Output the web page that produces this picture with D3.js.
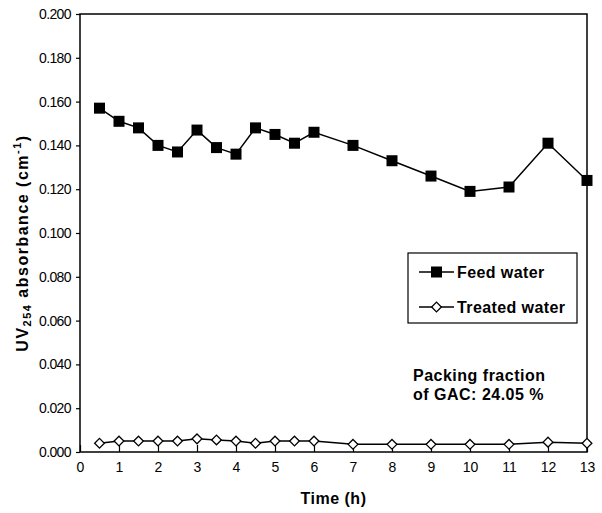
<!DOCTYPE html>
<html>
<head>
<meta charset="utf-8">
<script src="https://cdn.jsdelivr.net/npm/d3@7"></script>
<style>
  body { margin: 0; background: #fff; }
  text { font-family: "Liberation Sans", Arial, sans-serif; fill: #000; }
</style>
</head>
<body>
<div id="chart"></div>
<script>
// time (h)
const hours = [0.5, 1, 1.5, 2, 2.5, 3, 3.5, 4, 4.5, 5, 5.5, 6, 7, 8, 9, 10, 11, 12, 13];
// UV254 absorbance (cm-1)
const feedWater = [0.157, 0.151, 0.148, 0.140, 0.137, 0.147, 0.139, 0.136, 0.148, 0.145,
                   0.141, 0.146, 0.140, 0.133, 0.126, 0.119, 0.121, 0.141, 0.124];
const treatedWater = [0.004, 0.005, 0.005, 0.005, 0.005, 0.006, 0.0055, 0.005, 0.004, 0.005,
                      0.005, 0.005, 0.0035, 0.0035, 0.0035, 0.0035, 0.0035, 0.0045, 0.004];
const xTicks = d3.range(0, 14);
const yTicks = [0, 0.02, 0.04, 0.06, 0.08, 0.1, 0.12, 0.14, 0.16, 0.18, 0.2];

const width = 602, height = 513;
const margin = { top: 14, right: 15, bottom: 61, left: 80 };

const svg = d3.select("#chart")
    .append("svg")
    .attr("width", width)
    .attr("height", height);

const x = d3.scaleLinear().domain([0, 13]).range([margin.left, width - margin.right]);
const y = d3.scaleLinear().domain([0, 0.2]).range([height - margin.bottom, margin.top]);

// plot frame
svg.append("rect")
    .attr("x", x(0)).attr("y", y(0.2))
    .attr("width", x(13) - x(0)).attr("height", y(0) - y(0.2))
    .attr("fill", "none").attr("stroke", "#000").attr("stroke-width", 1.5);

// y axis (outside ticks)
const yAxis = svg.append("g")
    .attr("transform", `translate(${x(0)},0)`)
    .call(d3.axisLeft(y).tickValues(yTicks).tickSize(4).tickPadding(5).tickFormat(d3.format(".3f")));
yAxis.select(".domain").remove();
yAxis.selectAll("text").attr("font-size", 14).style("letter-spacing", "-0.6px");
yAxis.selectAll("line").attr("stroke-width", 1.2);

// x axis (inside ticks)
const xAxis = svg.append("g")
    .attr("transform", `translate(0,${y(0)})`)
    .call(d3.axisBottom(x).tickValues(xTicks).tickSize(-7).tickPadding(10));
xAxis.select(".domain").remove();
xAxis.selectAll("text").attr("font-size", 14);
xAxis.selectAll("line").attr("stroke-width", 1.2);

const line = d3.line().x((d, i) => x(hours[i])).y(d => y(d));

// feed water
svg.append("path")
    .datum(feedWater)
    .attr("d", line)
    .attr("fill", "none").attr("stroke", "#000").attr("stroke-width", 1.5);
svg.selectAll("rect.feed")
    .data(feedWater)
    .enter()
    .append("rect")
    .attr("class", "feed")
    .attr("x", (d, i) => x(hours[i]) - 5.5)
    .attr("y", d => y(d) - 5.5)
    .attr("width", 11).attr("height", 11)
    .attr("fill", "#000");

// treated water
svg.append("path")
    .datum(treatedWater)
    .attr("d", line)
    .attr("fill", "none").attr("stroke", "#000").attr("stroke-width", 1.5);
const diamond = d3.symbol().type(d3.symbolDiamond2).size(60);
svg.selectAll("path.treated")
    .data(treatedWater)
    .enter()
    .append("path")
    .attr("class", "treated")
    .attr("transform", (d, i) => `translate(${x(hours[i])},${y(d)})`)
    .attr("d", diamond)
    .attr("fill", "#fff").attr("stroke", "#000").attr("stroke-width", 1.3);

// legend
const legend = svg.append("g").attr("transform", "translate(408,253)");
legend.append("rect")
    .attr("width", 169).attr("height", 70)
    .attr("fill", "#fff").attr("stroke", "#000").attr("stroke-width", 1.2);
const items = [
    { label: "Feed water", filled: true },
    { label: "Treated water", filled: false }
];
items.forEach((it, i) => {
    const cy = 19 + i * 35;
    const g = legend.append("g").attr("transform", `translate(0,${cy})`);
    g.append("line").attr("x1", 11).attr("x2", 46).attr("y1", 0).attr("y2", 0)
        .attr("stroke", "#000").attr("stroke-width", 1.5);
    if (it.filled) {
        g.append("rect").attr("x", 23).attr("y", -5.5).attr("width", 11).attr("height", 11).attr("fill", "#000");
    } else {
        g.append("path").attr("transform", "translate(28.5,0)").attr("d", diamond)
            .attr("fill", "#fff").attr("stroke", "#000").attr("stroke-width", 1.3);
    }
    g.append("text").attr("x", 49).attr("y", 6)
        .attr("font-size", 16).attr("font-weight", "bold")
        .style("letter-spacing", "0.4px").text(it.label);
});

// annotation
svg.append("text").attr("x", 413).attr("y", 381)
    .attr("font-size", 16).attr("font-weight", "bold")
    .style("letter-spacing", "0.5px").text("Packing fraction");
svg.append("text").attr("x", 413).attr("y", 400)
    .attr("font-size", 16).attr("font-weight", "bold")
    .style("letter-spacing", "0.5px").text("of GAC: 24.05 %");

// axis titles
svg.append("text")
    .attr("x", (x(0) + x(13)) / 2).attr("y", 504)
    .attr("text-anchor", "middle")
    .attr("font-size", 16).attr("font-weight", "bold")
    .style("letter-spacing", "0.5px")
    .text("Time (h)");

const yTitle = svg.append("text")
    .attr("transform", `translate(28,${(y(0) + y(0.2)) / 2 + 10}) rotate(-90)`)
    .attr("text-anchor", "middle")
    .attr("font-size", 16).attr("font-weight", "bold")
    .style("letter-spacing", "1.5px");
yTitle.append("tspan").text("UV");
yTitle.append("tspan").attr("font-size", 11).attr("dy", 3).text("254");
yTitle.append("tspan").attr("dy", -3).text(" absorbance (cm");
yTitle.append("tspan").attr("font-size", 11).attr("dy", -7).text("-1");
yTitle.append("tspan").attr("dy", 7).text(")");
</script>
</body>
</html>
